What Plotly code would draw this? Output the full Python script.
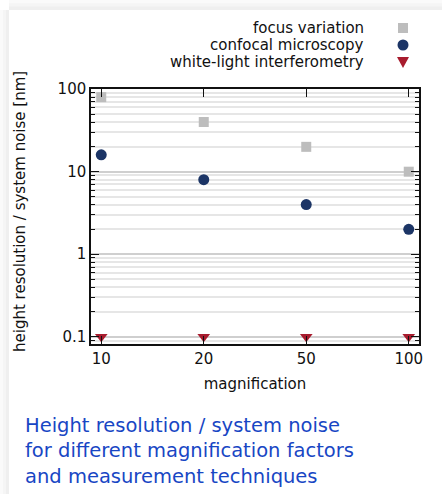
import plotly.graph_objects as go

magnification = ["10", "20", "50", "100"]
focus_variation = [80, 40, 20, 10]
confocal = [16, 8, 4, 2]
white_light = [0.1, 0.1, 0.1, 0.1]

series_names = ["focus variation", "confocal microscopy", "white-light interferometry"]
caption_lines = ["Height resolution / system noise",
                 "for different magnification factors",
                 "and measurement techniques"]
y_tickvals = [0.1, 1, 10, 100]
y_ticktext = ["0.1", "1", "10", "100"]
y_minor = [0.09] + [d * m for d in (0.1, 1, 10) for m in range(2, 10)]

W, H = 442, 494
L, R, T, B = 91, 419, 89, 344

def fx(px):
    return (px - L) / (R - L)

def fy(py):
    return (B - py) / (B - T)

C_GRAY = "#bdbdbd"
C_NAVY = "#1c3566"
C_RED = "#a81c2e"
FONT = "DejaVu Sans"

fig = go.Figure()
fig.add_trace(go.Scatter(x=magnification, y=focus_variation, mode="markers", name=series_names[0],
                         marker=dict(symbol="square", size=10, color=C_GRAY)))
fig.add_trace(go.Scatter(x=magnification, y=confocal, mode="markers", name=series_names[1],
                         marker=dict(symbol="circle", size=11, color=C_NAVY)))
fig.add_trace(go.Scatter(x=magnification, y=white_light, mode="markers", name=series_names[2],
                         marker=dict(symbol="triangle-down", size=11, color=C_RED)))

shapes = []
# card shadow
for i, col in enumerate(["#fafafa", "#f5f5f5", "#efefef"]):
    shapes.append(dict(type="rect", xref="paper", yref="paper", layer="below",
                       x0=fx(0 + i * 3), x1=fx(9), y0=fy(494), y1=fy(10),
                       fillcolor=col, line=dict(width=0)))
    shapes.append(dict(type="rect", xref="paper", yref="paper", layer="below",
                       x0=fx(9), x1=fx(442), y0=fy(10), y1=fy(0 + i * 3.3),
                       fillcolor=col, line=dict(width=0)))

# legend keys (symbol to the right of text)
kx = 403
rows = [28, 45, 62]
s = 5
shapes.append(dict(type="rect", xref="paper", yref="paper", x0=fx(kx - s), x1=fx(kx + s),
                   y0=fy(rows[0] + s), y1=fy(rows[0] - s), fillcolor=C_GRAY, line=dict(width=0)))
shapes.append(dict(type="circle", xref="paper", yref="paper", x0=fx(kx - 5.5), x1=fx(kx + 5.5),
                   y0=fy(rows[1] + 5.5), y1=fy(rows[1] - 5.5), fillcolor=C_NAVY, line=dict(width=0)))
tri = "M {} {} L {} {} L {} {} Z".format(fx(kx - 6), fy(rows[2] - 5), fx(kx + 6), fy(rows[2] - 5),
                                         fx(kx), fy(rows[2] + 6))
shapes.append(dict(type="path", xref="paper", yref="paper", path=tri, fillcolor=C_RED, line=dict(width=0)))

annotations = []
for name, ry in zip(series_names, rows):
    annotations.append(dict(text=name, xref="paper", yref="paper", x=fx(366), y=fy(ry),
                            xanchor="right", yanchor="middle", showarrow=False,
                            font=dict(family=FONT, size=15, color="#111111")))

annotations.append(dict(text="<br>".join(caption_lines), xref="paper", yref="paper",
                        x=fx(23), y=fy(451), xanchor="left", yanchor="middle", align="left",
                        showarrow=False,
                        font=dict(family=FONT, size=19.5, color="#1846c4")))

annotations.append(dict(text="height resolution / system noise [nm]", xref="paper", yref="paper",
                        x=fx(20), y=fy(212), textangle=-90, xanchor="center", yanchor="middle",
                        showarrow=False, font=dict(family=FONT, size=15, color="#111111")))

fig.update_layout(
    width=W, height=H,
    margin=dict(l=L, r=W - R, t=T, b=H - B),
    paper_bgcolor="white", plot_bgcolor="white",
    showlegend=False,
    shapes=shapes, annotations=annotations,
    font=dict(family=FONT, size=15, color="#111111"),
)
fig.update_xaxes(type="category", categoryorder="array", categoryarray=magnification,
                 range=[-0.1, 3.1], showgrid=False, zeroline=False,
                 showline=True, linecolor="#111111", linewidth=1.5, mirror="ticks",
                 ticks="inside", ticklen=8, tickwidth=1.2, tickcolor="#111111",
                 title=dict(text="magnification", standoff=12, font=dict(family=FONT, size=15)),
                 tickfont=dict(family=FONT, size=15))
fig.update_yaxes(type="log", range=[-1.088, 2.002], tickvals=y_tickvals, ticktext=y_ticktext,
                 showgrid=True, gridcolor="#cfcfcf", gridwidth=1.5, zeroline=False,
                 showline=True, linecolor="#111111", linewidth=1.5, mirror="ticks",
                 ticks="inside", ticklen=8, tickwidth=1.2, tickcolor="#111111",
                 tickfont=dict(family=FONT, size=15),
                 minor=dict(tickvals=y_minor, ticks="inside", ticklen=4, tickwidth=1.2,
                            tickcolor="#111111", showgrid=True, gridcolor="#e6e6e6", gridwidth=1.5))

fig.write_html("out.html", config={"displayModeBar": False},
               post_script="document.body.style.margin='0';document.body.style.overflow='hidden';")
